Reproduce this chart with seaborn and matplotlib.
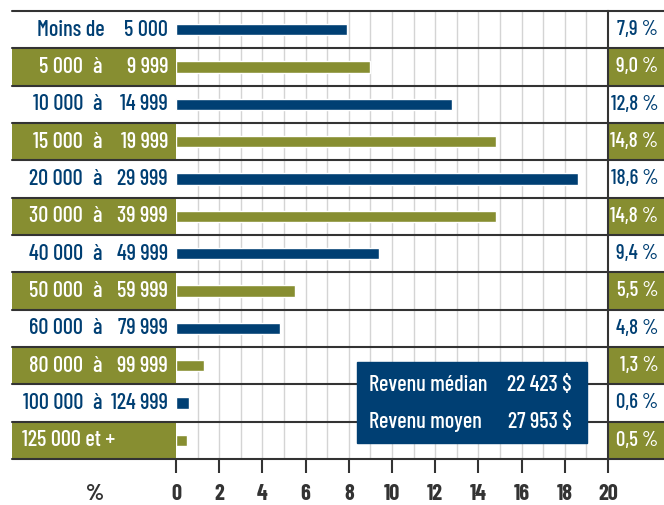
import matplotlib
matplotlib.use("Agg")
import matplotlib.pyplot as plt
import seaborn as sns
import pandas as pd

# data
low = ["Moins de", "5 000", "10 000", "15 000", "20 000", "30 000",
       "40 000", "50 000", "60 000", "80 000", "100 000", "125 000 et +"]
high = ["5 000", "9 999", "14 999", "19 999", "29 999", "39 999",
        "49 999", "59 999", "79 999", "99 999", "124 999", ""]
values = [7.9, 9.0, 12.8, 14.8, 18.6, 14.8, 9.4, 5.5, 4.8, 1.3, 0.6, 0.5]
value_labels = ["7,9 %", "9,0 %", "12,8 %", "14,8 %", "18,6 %", "14,8 %",
                "9,4 %", "5,5 %", "4,8 %", "1,3 %", "0,6 %", "0,5 %"]
stats_names = ["Revenu médian", "Revenu moyen"]
stats_values = ["22 423 $", "27 953 $"]

BLUE = "#003f73"
OLIVE = "#878e31"
DARK = "#333333"
FONT = ["Barlow Condensed", "DejaVu Sans"]
FS = 16
FW = 500

sns.set_style("white")
plt.rcParams["font.family"] = FONT

df = pd.DataFrame({
    "row": [f"r{i}" for i in range(len(values))],
    "value": values,
    "kind": ["blue" if i % 2 == 0 else "olive" for i in range(len(values))],
})

fig = plt.figure(figsize=(6.64, 5.05), dpi=100)
W, H = 664, 505
ax = fig.add_axes([176 / W, 1 - 459 / H, 432 / W, 448 / H])

sns.barplot(data=df, x="value", y="row", hue="kind", orient="h",
            palette={"blue": BLUE, "olive": OLIVE}, width=0.3,
            legend=False, ax=ax, saturation=1)

ax.set_xlim(0, 20)
ax.set_ylim(11.5, -0.5)
left_ext = (12 - 176) / 432
right_ext = (664 - 176) / 432

# light vertical grid
ax.vlines(range(1, 20), -0.5, 11.5, color="#d4d4d4", lw=1, zorder=0)

n = len(values)
for i in range(n):
    olive = i % 2 == 1
    if olive:
        ax.axhspan(i - 0.5, i + 0.5, xmin=left_ext, xmax=0, color=OLIVE,
                   clip_on=False, zorder=1, lw=0)
        ax.axhspan(i - 0.5, i + 0.5, xmin=1, xmax=right_ext, color=OLIVE,
                   clip_on=False, zorder=1, lw=0)
    tc = "white" if olive else BLUE
    kw = dict(color=tc, fontsize=FS, fontweight=FW, va="center",
              clip_on=False, zorder=3)
    if high[i] == "":
        ax.text(-7.13, i, low[i], ha="left", **kw)
    elif i == 0:
        ax.text(-3.29, i, low[i], ha="right", **kw)
        ax.text(-0.37, i, high[i], ha="right", **kw)
    else:
        ax.text(-4.3, i, low[i], ha="right", **kw)
        ax.text(-3.66, i, "à", ha="center", **kw)
        ax.text(-0.37, i, high[i], ha="right", **kw)
    kw["fontsize"] = 15
    ax.text(22.33, i, value_labels[i], ha="right", **kw)

for y in [k - 0.5 for k in range(n + 1)]:
    ax.axhline(y, xmin=left_ext, xmax=right_ext, color=DARK, lw=1.5,
               clip_on=False, zorder=4)

# stats box
box = plt.Rectangle((8.38, 8.9), 10.65, 2.17, color=BLUE, zorder=5)
ax.add_patch(box)
for j, (nm, vl) in enumerate(zip(stats_names, stats_values)):
    y = 9.52 + j * 0.99
    ax.text(8.94, y, nm, color="white", fontsize=FS, fontweight=FW,
            va="center", zorder=6)
    ax.text(18.33, y, vl, color="white", fontsize=FS, fontweight=FW,
            va="center", ha="right", zorder=6)

for s in ["left", "top", "bottom"]:
    ax.spines[s].set_visible(False)
ax.spines["right"].set_color(DARK)
ax.spines["right"].set_linewidth(1.5)

ax.set_yticks([])
ax.set_ylabel("")
ax.set_xlabel("")
ax.set_xticks(range(0, 21, 2))
ax.tick_params(axis="x", direction="out", length=10, width=1.5, color=DARK,
               labelsize=FS, labelcolor=DARK, pad=8, bottom=True)
for lab in ax.get_xticklabels():
    lab.set_fontweight("bold")
ax.text(-3.75, 12.45, "%", fontsize=17, fontweight="bold", color=DARK,
        ha="center", va="center", clip_on=False)

fig.savefig("out.png", dpi=100)
